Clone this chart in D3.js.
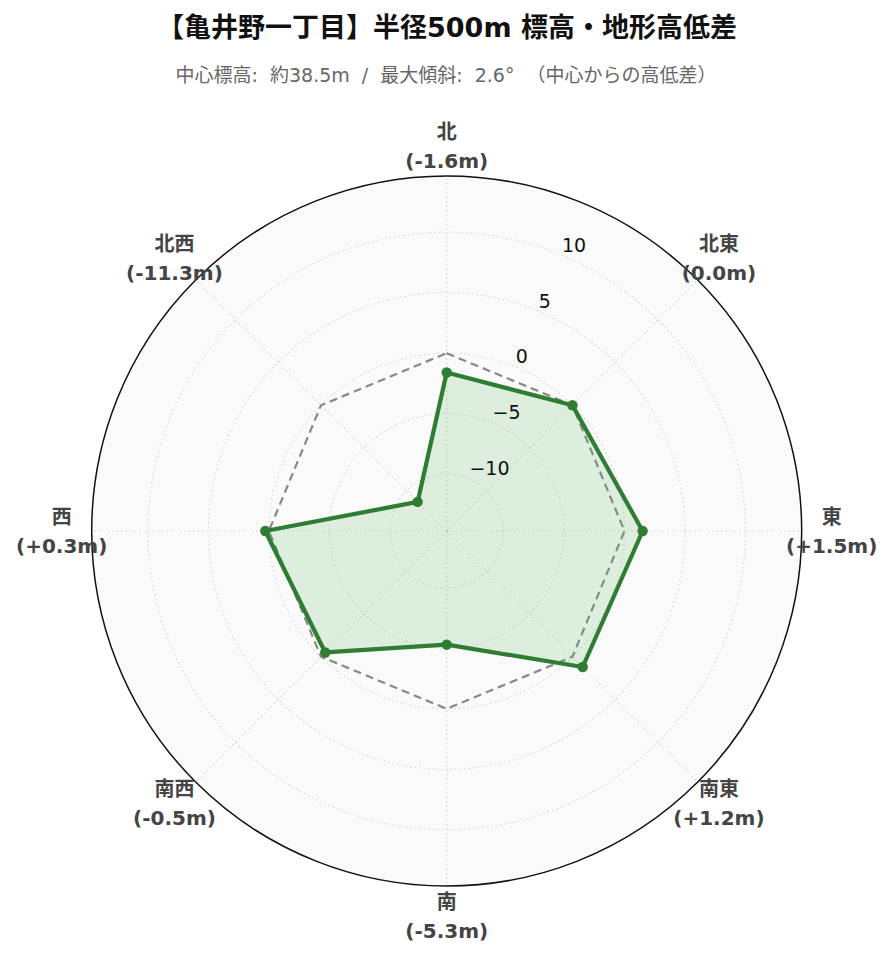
<!DOCTYPE html>
<html>
<head>
<meta charset="utf-8">
<script src="https://cdn.jsdelivr.net/npm/d3@7"></script>
<style>
  body { margin: 0; background: #fff; }
  .title { font-family: "DejaVu Sans", "Noto Sans CJK JP", sans-serif; font-weight: bold; font-size: 27px; fill: #111; }
  .subtitle { font-family: "DejaVu Sans", "Noto Sans CJK JP", sans-serif; font-size: 19px; fill: #666; word-spacing: 6px; }
  .dir-label { font-family: "DejaVu Sans", "Noto Sans CJK JP", sans-serif; font-weight: bold; font-size: 20px; fill: #444; }
  .rtick { font-family: "DejaVu Sans", sans-serif; font-size: 19px; fill: #111; }
</style>
</head>
<body>
<div id="chart"></div>
<script>
// directions, clockwise from north
var directions = ["北", "北東", "東", "南東", "南", "南西", "西", "北西"];
// height difference from the centre point (m)
var diffs = [-1.6, 0.0, 1.5, 1.2, -5.3, -0.5, 0.3, -11.3];
// reference line: the centre elevation itself
var baseline = [0, 0, 0, 0, 0, 0, 0, 0];
var radialTicks = [-10, -5, 0, 5, 10];
var radialRange = [-14.7, 14.65];

var titleText = "【亀井野一丁目】半径500m 標高・地形高低差";
var subtitleText = "中心標高: 約38.5m / 最大傾斜: 2.6° （中心からの高低差）";

var width = 893, height = 962,
  cx = 446.7, cy = 531, R = 355;

var svg = d3.select("#chart").append("svg")
  .attr("width", width)
  .attr("height", height);

svg.append("text")
  .attr("class", "title")
  .attr("x", 447)
  .attr("y", 37)
  .attr("text-anchor", "middle")
  .text(titleText);

svg.append("text")
  .attr("class", "subtitle")
  .attr("x", 446)
  .attr("y", 82)
  .attr("text-anchor", "middle")
  .text(subtitleText);

var r = d3.scaleLinear().domain(radialRange).range([0, R]);
var angle = function(i) { return i * 2 * Math.PI / directions.length; };

var g = svg.append("g")
  .attr("transform", "translate(" + cx + "," + cy + ")");

// polar background
g.append("circle")
  .attr("r", R)
  .attr("fill", "#fafafa");

// grid circles
g.selectAll(".grid-circle")
  .data(radialTicks)
  .enter().append("circle")
  .attr("class", "grid-circle")
  .attr("r", function(d) { return r(d); })
  .attr("fill", "none")
  .attr("stroke", "#d4d4d4")
  .attr("stroke-width", 1.2)
  .attr("stroke-dasharray", "1.5,3");

// spokes
g.selectAll(".spoke")
  .data(directions)
  .enter().append("line")
  .attr("class", "spoke")
  .attr("x1", 0).attr("y1", 0)
  .attr("x2", function(d, i) { return R * Math.sin(angle(i)); })
  .attr("y2", function(d, i) { return -R * Math.cos(angle(i)); })
  .attr("stroke", "#d4d4d4")
  .attr("stroke-width", 1.2)
  .attr("stroke-dasharray", "1.5,3");

var radial = d3.lineRadial()
  .angle(function(d, i) { return angle(i); })
  .radius(function(d) { return r(d); })
  .curve(d3.curveLinearClosed);

// zero reference
g.append("path")
  .datum(baseline)
  .attr("d", radial)
  .attr("fill", "none")
  .attr("stroke", "#888")
  .attr("stroke-width", 2.2)
  .attr("stroke-dasharray", "8,5");

// data area
g.append("path")
  .datum(diffs)
  .attr("d", radial)
  .attr("fill", "rgba(76,175,80,0.16)")
  .attr("stroke", "#2e7d32")
  .attr("stroke-width", 4.2)
  .attr("stroke-linejoin", "round");

g.selectAll(".pt")
  .data(diffs)
  .enter().append("circle")
  .attr("class", "pt")
  .attr("cx", function(d, i) { return r(d) * Math.sin(angle(i)); })
  .attr("cy", function(d, i) { return -r(d) * Math.cos(angle(i)); })
  .attr("r", 5.2)
  .attr("fill", "#2e7d32");

// outer circle
g.append("circle")
  .attr("r", R)
  .attr("fill", "none")
  .attr("stroke", "#111")
  .attr("stroke-width", 1.5);

// radial tick labels along 22.5deg
var tickAngle = Math.PI / 8;
g.selectAll(".rtick")
  .data(radialTicks)
  .enter().append("text")
  .attr("class", "rtick")
  .attr("x", function(d) { return r(d) * Math.sin(tickAngle) + 1; })
  .attr("y", function(d) { return -r(d) * Math.cos(tickAngle) - 10; })
  .attr("dy", "0.35em")
  .text(function(d) { return d < 0 ? "\u2212" + Math.abs(d) : d; });

// direction labels
var fmt = function(v) {
  var s = Math.abs(v).toFixed(1);
  if (v > 0) { return "(+" + s + "m)"; }
  if (v < 0) { return "(-" + s + "m)"; }
  return "(" + s + "m)";
};
var labelR = R + 30;
var lab = g.selectAll(".dir-label")
  .data(directions)
  .enter().append("text")
  .attr("class", "dir-label")
  .attr("text-anchor", "middle")
  .attr("transform", function(d, i) {
    return "translate(" + (labelR * Math.sin(angle(i))) + "," + (-labelR * Math.cos(angle(i))) + ")";
  });
lab.append("tspan")
  .attr("x", 0).attr("y", -14.5).attr("dy", "0.35em")
  .text(function(d) { return d; });
lab.append("tspan")
  .attr("x", 0).attr("y", 14.5).attr("dy", "0.35em")
  .text(function(d, i) { return fmt(diffs[i]); });
</script>
</body>
</html>
